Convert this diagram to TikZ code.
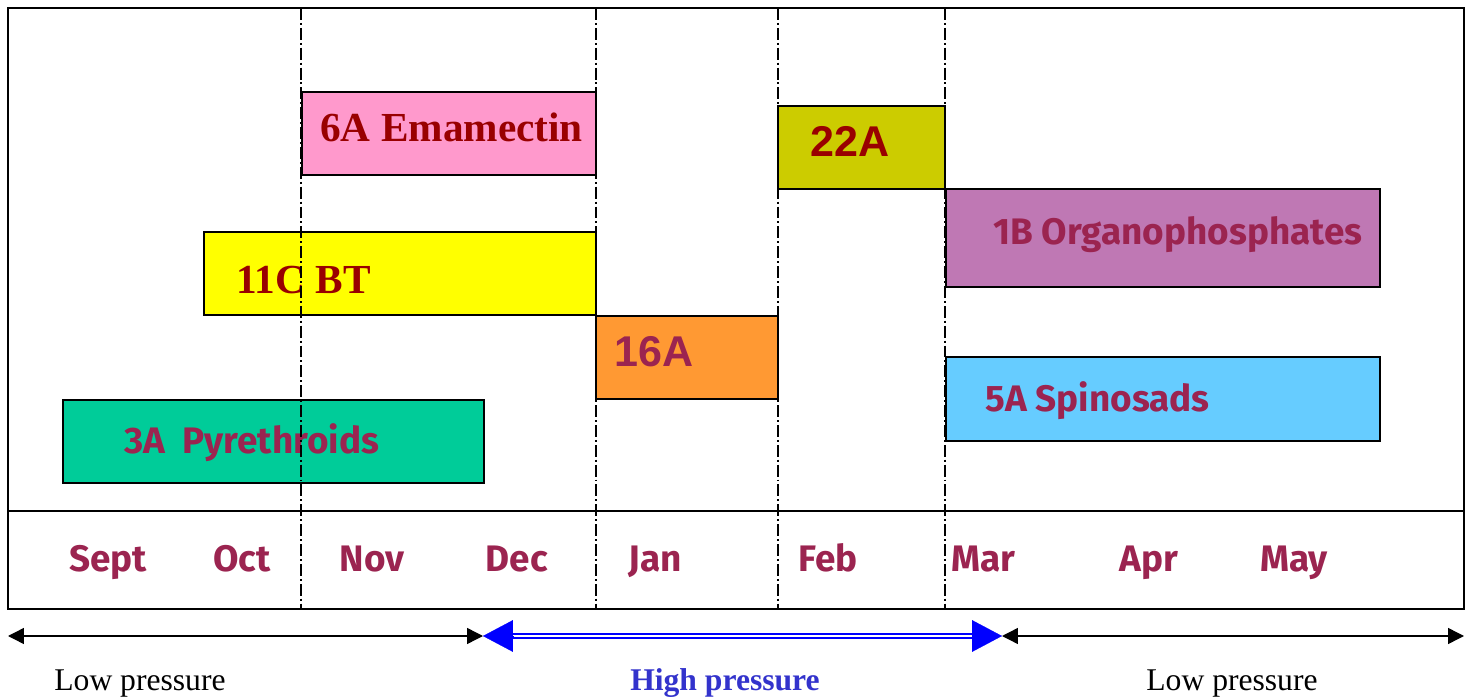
\documentclass[tikz,border=0pt]{standalone}
\usepackage{fontspec}
\setmainfont{Liberation Serif}
\newfontfamily\monthfont{Fira Sans}
\newfontfamily\codefont{Liberation Sans}
\usetikzlibrary{positioning,calc,arrows.meta}
\definecolor{pinkfill}{HTML}{FF99CC}
\definecolor{olivefill}{HTML}{CCCC00}
\definecolor{mauvefill}{RGB}{191,120,180}
\definecolor{yellowfill}{HTML}{FFFF00}
\definecolor{orangefill}{HTML}{FF9933}
\definecolor{skyfill}{HTML}{66CCFF}
\definecolor{greenfill}{HTML}{00CC99}
\definecolor{darkred}{HTML}{990000}
\definecolor{plum}{RGB}{155,36,80}
\definecolor{pressblue}{HTML}{3333CC}
\tikzset{
  bar/.style={draw=black, line width=1.1pt},
  serifbold/.style={anchor=base west, inner sep=0pt, text=darkred, font=\fontsize{23.5}{27}\selectfont\bfseries},
  sansbold/.style={anchor=base west, inner sep=0pt, text=plum, font=\monthfont\fontsize{21}{25}\selectfont\bfseries},
  codebold/.style={anchor=base west, inner sep=0pt, font=\codefont\fontsize{24.5}{28}\selectfont\bfseries},
  month/.style={anchor=base, inner sep=0pt, text=plum, font=\monthfont\fontsize{21}{25}\selectfont\bfseries},
  press/.style={anchor=base, inner sep=0pt, font=\fontsize{18}{22}\selectfont},
  divider/.style={line width=0.8pt, dash pattern=on 6.8pt off 1.7pt on 1.1pt off 1.7pt},
  lowarrow/.style={line width=0.8pt, {Triangle[length=9pt,width=9pt]}-{Triangle[length=9pt,width=9pt]}},
}
\begin{document}
\begin{tikzpicture}[x=0.02cm, y=-0.02cm]
\useasboundingbox (0,0) rectangle (1475,699);
% frame
\draw[line width=1.1pt] (8,8) rectangle (1464,609);
\draw[line width=1.1pt] (8,511) -- (1464,511);

% product bars
\draw[bar, fill=pinkfill] (302,92) rectangle (596,175);
\node[serifbold] (emamectin) at (320,142) {6A Emamectin};
\draw[bar, fill=olivefill] (778,106) rectangle (945,189);
\node[codebold, text=darkred] (twentytwo) at (810,157) {22A};
\draw[bar, fill=mauvefill] (946,189) rectangle (1380,287);
\node[sansbold] (organo) at (993,245) {1B Organophosphates};
\draw[bar, fill=yellowfill] (204,232) rectangle (596,315);
\node[serifbold] (bt) at (236,294) {11C BT};
\draw[bar, fill=orangefill] (596,316) rectangle (778,399);
\node[codebold, text=plum] (sixteen) at (614,367) {16A};
\draw[bar, fill=skyfill] (946,357) rectangle (1380,441);
\node[sansbold] (spinosads) at (985,412) {5A Spinosads};
\draw[bar, fill=greenfill] (63,400) rectangle (484,483);
\node[sansbold] (pyrethroids) at (124,454) {3A\ \ Pyrethroids};

% month dividers
\foreach \x in {301,596,778,945}
  \draw[divider] (\x,8) -- (\x,609);

% months
\node[month] (sept) at (108,571) {Sept};
\node[month] (oct) at (242,571) {Oct};
\node[month] (nov) at (372,571) {Nov};
\node[month] (dec) at (517,571) {Dec};
\node[month] (jan) at (655,571) {Jan};
\node[month] (feb) at (828,571) {Feb};
\node[month] (mar) at (983,571) {Mar};
\node[month] (apr) at (1149,571) {Apr};
\node[month] (may) at (1294,571) {May};

% pressure arrows
\coordinate (lowL) at (8,636);
\coordinate (highL) at (483,636);
\coordinate (highR) at (1002,636);
\coordinate (lowR) at (1464,636);
\draw[lowarrow] (lowL) -- (highL);
\draw[lowarrow] (highR) -- (lowR);
\draw[blue, line width=1.1pt, double=white, double distance=1.1pt, shorten <=14pt, shorten >=14pt] (highL) -- (highR);
\draw[blue, line width=0.1pt, -{Triangle[length=17pt,width=18pt]}] ($(highL)+(30,0)$) -- (highL);
\draw[blue, line width=0.1pt, -{Triangle[length=17pt,width=18pt]}] ($(highR)-(30,0)$) -- (highR);

\node[press] (lowleft) at (140,690) {Low pressure};
\node[press, text=pressblue, font=\fontsize{18}{22}\selectfont\bfseries] (high) at (725,690) {High pressure};
\node[press] (lowright) at (1232,690) {Low pressure};
\end{tikzpicture}
\end{document}
